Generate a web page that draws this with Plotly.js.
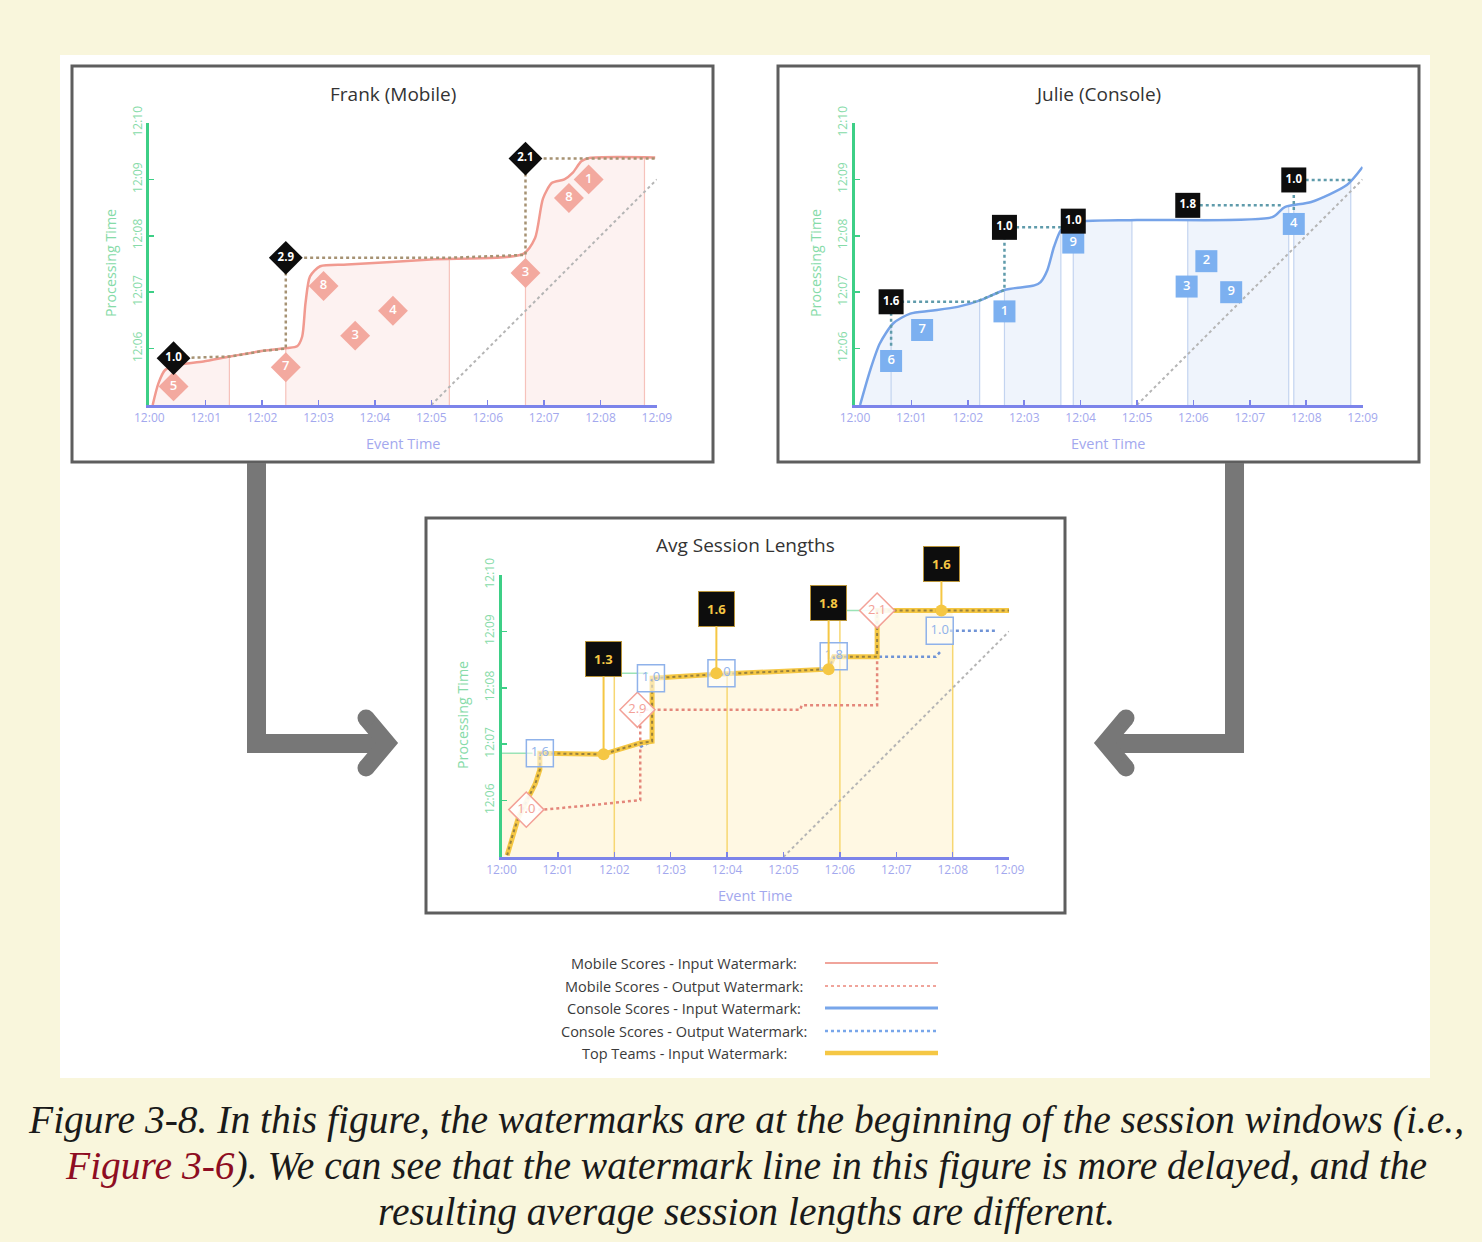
<!DOCTYPE html>
<html><head><meta charset="utf-8">
<script src="https://cdn.plot.ly/plotly-3.0.1.min.js"></script>
<style>html,body{margin:0;padding:0;background:#f9f6dc;}#chart{width:1482px;height:1242px;}</style>
</head><body><div id="chart"></div>
<script>
// ================= DATA (minutes after 12:00) =================
const timeTickVals = [0,1,2,3,4,5,6,7,8,9];
const timeTickText = ["12:00","12:01","12:02","12:03","12:04","12:05","12:06","12:07","12:08","12:09"];
const procTickVals = [6,7,8,9,10];
const procTickText = ["12:06","12:07","12:08","12:09","12:10"];
const diagX = [5, 9];
const diagY = [5, 9];

// Frank (Mobile)
const frankInX = [0.06,0.16,0.28,0.49,0.96,1.43,2.02,2.44,2.62,2.71,2.77,2.85,3.03,3.51,4.99,6.63,6.84,6.98,7.14,7.36,7.51,7.66,7.8,8.97];
const frankInY = [5.0,5.38,5.62,5.71,5.77,5.86,5.96,6.01,6.04,6.21,6.81,7.28,7.46,7.49,7.58,7.68,7.96,8.66,8.94,9.0,9.12,9.32,9.38,9.39];
const frankOutX = [0.43,1.43,2.02,2.42,2.42,5.32,6.63,6.67,6.67,8.97];
const frankOutY = [5.83,5.86,5.96,6.0,7.61,7.61,7.66,7.66,9.37,9.37];
const frankScoreX = [0.43,2.42,3.09,3.65,4.32,6.67,7.44,7.79];
const frankScoreY = [5.33,5.67,7.11,6.23,6.67,7.34,8.67,9.0];
const frankScoreText = ["5","7","8","3","4","3","8","1"];
const frankSessStart = [0.43,2.42,6.67];
const frankSessEnd = [1.42,5.32,8.78];
const frankSessLen = ["1.0","2.9","2.1"];
const frankSessLabelY = [5.83,7.61,9.37];

// Julie (Console)
const julieInX = [0.09,0.27,0.44,0.68,0.98,1.34,1.82,2.23,2.65,3.18,3.29,3.41,3.53,3.65,3.83,5.0,7.4,7.62,8.09,8.72,9.0];
const julieInY = [5.0,5.62,6.09,6.45,6.62,6.67,6.74,6.86,7.04,7.12,7.18,7.39,7.81,8.1,8.23,8.28,8.33,8.51,8.6,8.9,9.22];
const julieOutX = [0.64,0.64,2.15,2.65,2.65,3.65,null,5.9,7.6,null,7.78,7.78,8.79];
const julieOutY = [6.05,6.83,6.83,7.04,8.15,8.15,null,8.54,8.54,null,8.35,8.99,8.99];
const julieScoreX = [0.64,1.19,2.65,3.87,5.88,6.23,6.67,7.78];
const julieScoreY = [5.78,6.33,6.66,7.88,7.1,7.55,7.0,8.21];
const julieScoreText = ["6","7","1","9","3","2","9","4"];
const julieSessStart = [0.64,2.65,3.87,5.9,7.78];
const julieSessEnd = [2.21,3.65,4.91,7.69,8.79];
const julieSessLen = ["1.6","1.0","1.0","1.8","1.0"];
const julieSessLabelY = [6.83,8.15,8.26,8.54,8.99];

// Avg Session Lengths
const avgTopX = [0.1,0.2,0.3,0.45,0.6,0.68,0.68,1.8,2.46,2.67,2.67,3.81,5.8,5.89,6.66,6.66,9.0];
const avgTopY = [5.03,5.4,5.7,6.0,6.3,6.55,6.84,6.82,7.02,7.05,8.17,8.24,8.33,8.55,8.55,9.37,9.37];
const avgMobOutX = [0.44,0.75,1.6,2.46,2.46,5.3,5.32,6.66,6.66];
const avgMobOutY = [5.84,5.84,5.92,6.01,7.61,7.61,7.69,7.69,9.37];
const avgConOutX = [2.46,2.67,2.67,null,5.95,7.7,7.78,null,7.95,8.78];
const avgConOutY = [6.95,7.05,7.87,null,8.55,8.55,8.64,null,9.01,9.01];
const avgGreenX = [0,0.55,null,2.0,2.6,null,6.0,6.6];
const avgGreenY = [6.84,6.84,null,8.26,8.26,null,9.37,9.37];
const avgMobileX = [0.44,2.41,6.66];
const avgMobileY = [5.84,7.61,9.37];
const avgMobileText = ["1.0","2.9","2.1"];
const avgConsoleX = [0.68,2.65,3.9,5.89,7.77];
const avgConsoleY = [6.84,8.17,8.26,8.56,9.01];
const avgConsoleText = ["1.6","1.0","1.0","1.8","1.0"];
const avgWindowEnd = [2,4,6,8];
const avgWindowTopY = [8.26,8.26,9.37,9.0];
const avgResX = [1.81,3.81,5.8,7.8];
const avgResDotY = [6.82,8.26,8.33,9.37];
const avgResBoxY = [8.51,9.40,9.51,10.2];
const avgResText = ["1.3","1.6","1.8","1.6"];

const legendLabels = ["Mobile Scores - Input Watermark:","Mobile Scores - Output Watermark:","Console Scores - Input Watermark:","Console Scores - Output Watermark:","Top Teams - Input Watermark:"];
const panelTitles = ["Frank (Mobile)","Julie (Console)","Avg Session Lengths"];
const captionLines = [
  "<i>Figure 3-8. In this figure, the watermarks are at the beginning of the session windows (i.e.,</i>",
  "<i><span style=\"color:#8e0d22\">Figure 3-6</span>). We can see that the watermark line in this figure is more delayed, and the</i>",
  "<i>resulting average session lengths are different.</i>"
];

// ================= LAYOUT HELPERS =================
const W = 1482, H = 1242, PXM = 56.4;
const P = x => x / W, Q = y => 1 - y / H;
const PAN = { frank:{x0:149.3,y0:405}, julie:{x0:855,y0:405}, avg:{x0:501.5,y0:857} };
function domX(p){ return [P(p.x0), P(p.x0 + 9*PXM)]; }
function domY(p){ return [Q(p.y0), Q(p.y0 - 5*PXM)]; }

const SALMON = '#f3a99f', BLUE = '#7aa7ea', YEL = '#f5c744', GREEN = '#3dcf86', XCOL = '#7c84ea';
const FONT = 'Open Sans, Noto Sans, sans-serif';

function xAxis(p, anchor){
  return {domain:domX(p), anchor, range:[0,9], showgrid:false, zeroline:false, showline:true,
    linecolor:XCOL, linewidth:3, ticks:'inside', ticklen:5, tickwidth:1.5, tickcolor:XCOL,
    tickvals:timeTickVals, ticktext:timeTickText, tickfont:{family:FONT,size:12,color:'#a3a8ee'}, fixedrange:true};
}
function yAxis(p, anchor){
  return {domain:domY(p), anchor, range:[5,10], showgrid:false, zeroline:false, showline:true,
    linecolor:GREEN, linewidth:3, ticks:'inside', ticklen:5, tickwidth:1.5, tickcolor:GREEN, tickangle:-90,
    tickvals:procTickVals, ticktext:procTickText, tickfont:{family:FONT,size:12,color:'#86dba8'}, fixedrange:true};
}

function interp(xs, ys, x){
  for (let i=0;i<xs.length-1;i++){
    const a=xs[i], b=xs[i+1];
    if (a==null||b==null) continue;
    if (x>=a && x<=b){ if (b===a) return ys[i+1]; return ys[i]+(ys[i+1]-ys[i])*(x-a)/(b-a); }
  }
  return x < xs[0] ? ys[0] : ys[ys.length-1];
}
function clipCurve(xs, ys, a, b){
  const X=[a], Y=[interp(xs,ys,a)];
  xs.forEach((x,i)=>{ if (x>a && x<b){ X.push(x); Y.push(ys[i]); } });
  X.push(b); Y.push(interp(xs,ys,b));
  return {X,Y};
}
function vlines(xs, bottoms, tops){
  const X=[], Y=[];
  xs.forEach((x,i)=>{ X.push(x,x,null); Y.push(bottoms,tops[i],null); });
  return {X,Y};
}

const traces = [];
const base = {hoverinfo:'skip', showlegend:false, cliponaxis:false};

function watermarkPanel(xa, ya, inX, inY, outX, outY, sStart, sEnd, fillCol, lineCol, boundCol, outCol, scoreX, scoreY, scoreText, scoreSym, scoreSize, scoreCol, sessLen, sessY, sessSym, sessSize){
  sStart.forEach((s,i)=>{
    const a = i===0 ? Math.min(s, inX[0]) : s;
    const c = clipCurve(inX, inY, a, sEnd[i]);
    traces.push({...base, type:'scatter', mode:'lines', xaxis:xa, yaxis:ya, x:c.X, y:c.Y, fill:'tozeroy', fillcolor:fillCol, line:{width:0}});
  });
  const bounds = [];
  sStart.forEach((s,i)=>{ if (i>0 || sStart.length>3) bounds.push(s); bounds.push(sEnd[i]); });
  const vl = vlines(bounds, 5, bounds.map(b=>interp(inX,inY,b)));
  traces.push({...base, type:'scatter', mode:'lines', xaxis:xa, yaxis:ya, x:vl.X, y:vl.Y, line:{color:boundCol,width:1.2}});
  traces.push({...base, type:'scatter', mode:'lines', xaxis:xa, yaxis:ya, x:diagX, y:diagY, line:{color:'#b5b5b5',width:2,dash:'dot'}});
  traces.push({...base, type:'scatter', mode:'lines', xaxis:xa, yaxis:ya, x:inX, y:inY, line:{color:lineCol,width:2.5,shape:'spline',smoothing:0.7}});
  traces.push({...base, type:'scatter', mode:'lines', xaxis:xa, yaxis:ya, x:outX, y:outY, line:{color:outCol,width:2.5,dash:'dot'}, connectgaps:false});
  traces.push({...base, type:'scatter', mode:'markers+text', xaxis:xa, yaxis:ya, x:scoreX, y:scoreY, text:scoreText,
    textposition:'middle center', textfont:{family:FONT,size:13,color:'#ffffff',weight:600},
    marker:{symbol:scoreSym,size:scoreSize,color:scoreCol,line:{width:0}}});
  traces.push({...base, type:'scatter', mode:'markers+text', xaxis:xa, yaxis:ya, x:sStart, y:sessY, text:sessLen,
    textposition:'middle center', textfont:{family:FONT,size:11.5,color:'#ffffff',weight:700},
    marker:{symbol:sessSym,size:sessSize,color:'#0d0d0d',line:{width:0}}});
}

watermarkPanel('x','y', frankInX, frankInY, frankOutX, frankOutY, frankSessStart, frankSessEnd,
  'rgba(248,196,189,0.22)', '#f19a90', '#f6c2bb', '#a69273',
  frankScoreX, frankScoreY, frankScoreText, 'diamond', 23, SALMON, frankSessLen, frankSessLabelY, 'diamond', 26);

watermarkPanel('x2','y2', julieInX, julieInY, julieOutX, julieOutY, julieSessStart, julieSessEnd,
  'rgba(190,212,242,0.25)', '#76a3e8', '#c3d4f0', '#5f9bab',
  julieScoreX, julieScoreY, julieScoreText, 'square', 22, '#7cb0f0', julieSessLen, julieSessLabelY, 'square', 25);

(function(){
  const i0 = avgTopX.lastIndexOf(avgConsoleX[0]);
  const end = avgWindowEnd[avgWindowEnd.length-1];
  const FX=[0], FY=[avgTopY[i0]];
  for (let i=i0;i<avgTopX.length;i++){ if (avgTopX[i] < end){ FX.push(avgTopX[i]); FY.push(avgTopY[i]); } }
  FX.push(end); FY.push(interp(avgTopX, avgTopY, end));
  traces.push({...base, type:'scatter', mode:'lines', xaxis:'x3', yaxis:'y3', x:FX, y:FY, fill:'tozeroy', fillcolor:'rgba(255,234,176,0.35)', line:{width:0}});
  const vl = vlines(avgWindowEnd, 5, avgWindowTopY);
  traces.push({...base, type:'scatter', mode:'lines', xaxis:'x3', yaxis:'y3', x:vl.X, y:vl.Y, line:{color:'#f7d772',width:1.5}});
  traces.push({...base, type:'scatter', mode:'lines', xaxis:'x3', yaxis:'y3', x:diagX, y:diagY, line:{color:'#b5b5b5',width:2,dash:'dot'}});
  traces.push({...base, type:'scatter', mode:'lines', xaxis:'x3', yaxis:'y3', x:avgGreenX, y:avgGreenY, line:{color:'#9be3b6',width:1.5}, connectgaps:false});
  traces.push({...base, type:'scatter', mode:'lines', xaxis:'x3', yaxis:'y3', x:avgMobOutX, y:avgMobOutY, line:{color:'#e4877b',width:2.5,dash:'dot'}});
  traces.push({...base, type:'scatter', mode:'lines', xaxis:'x3', yaxis:'y3', x:avgConOutX, y:avgConOutY, line:{color:'#6f93d6',width:2.5,dash:'dot'}, connectgaps:false});
  traces.push({...base, type:'scatter', mode:'lines', xaxis:'x3', yaxis:'y3', x:avgTopX, y:avgTopY, line:{color:YEL,width:5}});
  traces.push({...base, type:'scatter', mode:'lines', xaxis:'x3', yaxis:'y3', x:avgTopX, y:avgTopY, line:{color:'rgba(120,105,60,0.75)',width:2,dash:'3px,3px'}});
  traces.push({...base, type:'scatter', mode:'markers+text', xaxis:'x3', yaxis:'y3', x:avgMobileX, y:avgMobileY, text:avgMobileText,
    textposition:'middle center', textfont:{family:FONT,size:13,color:'#f3a197'},
    marker:{symbol:'diamond',size:27,color:'rgba(255,255,255,0.9)',line:{color:'#f3a197',width:1.5}}});
  traces.push({...base, type:'scatter', mode:'markers+text', xaxis:'x3', yaxis:'y3', x:avgConsoleX, y:avgConsoleY, text:avgConsoleText,
    textposition:'middle center', textfont:{family:FONT,size:13,color:'#8fb2ea'},
    marker:{symbol:'square',size:27,color:'rgba(255,255,255,0.55)',line:{color:'#8fb2ea',width:1.5}}});
  traces.push({...base, type:'scatter', mode:'markers', xaxis:'x3', yaxis:'y3', x:avgResX, y:avgResDotY,
    marker:{symbol:'circle',size:12,color:YEL}});
})();

// ================= SHAPES & ANNOTATIONS =================
const shapes = [];
const rectPx = (x0,y0,x1,y1,fill,lc,lw)=>({type:'rect',xref:'paper',yref:'paper',x0:P(x0),x1:P(x1),y0:Q(y1),y1:Q(y0),fillcolor:fill,line:{color:lc,width:lw},layer:'below'});
shapes.push(rectPx(60,55,1430,1078,'#ffffff','rgba(0,0,0,0)',0));
shapes.push(rectPx(72,66,713,462,'#ffffff','#5e5e5e',3));
shapes.push(rectPx(778,66,1419,462,'#ffffff','#5e5e5e',3));
shapes.push(rectPx(426,518,1065,913,'#ffffff','#5e5e5e',3));

const pathPx = pts => pts.map((p,i)=>(i?'L':'M')+P(p[0]).toFixed(5)+','+Q(p[1]).toFixed(5)).join(' ');
const ARROW = '#777777';
shapes.push({type:'path',xref:'paper',yref:'paper',path:pathPx([[247,463],[266,463],[266,734],[380,734],[380,753],[247,753]])+' Z',fillcolor:ARROW,line:{width:0}});
shapes.push({type:'path',xref:'paper',yref:'paper',path:pathPx([[366,718],[387,743],[366,768]]),line:{color:ARROW,width:17}});
shapes.push({type:'path',xref:'paper',yref:'paper',path:pathPx([[1225,463],[1244,463],[1244,753],[1108,753],[1108,734],[1225,734]])+' Z',fillcolor:ARROW,line:{width:0}});
shapes.push({type:'path',xref:'paper',yref:'paper',path:pathPx([[1126,718],[1105,743],[1126,768]]),line:{color:ARROW,width:17}});
[[366,718],[366,768],[1126,718],[1126,768]].forEach(c=>{
  shapes.push({type:'circle',xref:'paper',yref:'paper',x0:P(c[0]-8.5),x1:P(c[0]+8.5),y0:Q(c[1]+8.5),y1:Q(c[1]-8.5),fillcolor:ARROW,line:{width:0}});
});

const legendStyles = [
  {color:'#f0a49b',width:2,dash:'solid'},
  {color:'#f0a49b',width:2,dash:'dot'},
  {color:'#78a6ea',width:3,dash:'solid'},
  {color:'#78a6ea',width:2.5,dash:'dot'},
  {color:YEL,width:4.5,dash:'solid'}
];
const legendY = [963,986,1008,1031,1053];
const annotations = [];
legendLabels.forEach((t,i)=>{
  shapes.push({type:'line',xref:'paper',yref:'paper',x0:P(825),x1:P(938),y0:Q(legendY[i]),y1:Q(legendY[i]),line:legendStyles[i]});
  annotations.push({xref:'paper',yref:'paper',x:P(684),y:Q(legendY[i]),text:t,showarrow:false,xanchor:'center',yanchor:'middle',
    font:{family:FONT,size:14.5,color:'#3a3a3a'}});
});

[[393,94],[1098,94],[745,545]].forEach((c,i)=>{
  annotations.push({xref:'paper',yref:'paper',x:P(c[0]),y:Q(c[1]),text:panelTitles[i],showarrow:false,xanchor:'center',yanchor:'middle',
    font:{family:FONT,size:19,color:'#333333'}});
});
[[403,443],[1108,443],[755,895]].forEach(c=>{
  annotations.push({xref:'paper',yref:'paper',x:P(c[0]),y:Q(c[1]),text:'Event Time',showarrow:false,xanchor:'center',yanchor:'middle',
    font:{family:FONT,size:14.5,color:'#a3a8ee'}});
});
[[110,263],[815,263],[462,715]].forEach(c=>{
  annotations.push({xref:'paper',yref:'paper',x:P(c[0]),y:Q(c[1]),text:'Processing Time',showarrow:false,textangle:-90,xanchor:'center',yanchor:'middle',
    font:{family:FONT,size:14.3,color:'#86dba8'}});
});
avgResText.forEach((t,i)=>{
  annotations.push({xref:'x3',yref:'y3',x:avgResX[i],y:avgResDotY[i],axref:'x3',ayref:'y3',ax:avgResX[i],ay:avgResBoxY[i],
    text:'<b>'+t+'</b>',showarrow:true,arrowhead:0,arrowwidth:2,arrowcolor:YEL,standoff:0,
    bgcolor:'#0d0d0d',bordercolor:'#b8943a',borderwidth:1,borderpad:8,font:{family:FONT,size:13,color:YEL}});
});
[1120,1166,1212].forEach((y,i)=>{
  annotations.push({xref:'paper',yref:'paper',x:P(746),y:Q(y),text:captionLines[i],showarrow:false,xanchor:'center',yanchor:'middle',
    font:{family:'Liberation Serif, DejaVu Serif, serif',size:39.5,color:'#1a1a1a'}});
});

const layout = {
  width:W, height:H, margin:{l:0,r:0,t:0,b:0},
  paper_bgcolor:'#f9f6dc', plot_bgcolor:'rgba(0,0,0,0)', showlegend:false,
  xaxis:xAxis(PAN.frank,'y'), yaxis:yAxis(PAN.frank,'x'),
  xaxis2:xAxis(PAN.julie,'y2'), yaxis2:yAxis(PAN.julie,'x2'),
  xaxis3:xAxis(PAN.avg,'y3'), yaxis3:yAxis(PAN.avg,'x3'),
  shapes, annotations
};
Plotly.newPlot('chart', traces, layout, {staticPlot:true, displayModeBar:false});
</script>
</body></html>
